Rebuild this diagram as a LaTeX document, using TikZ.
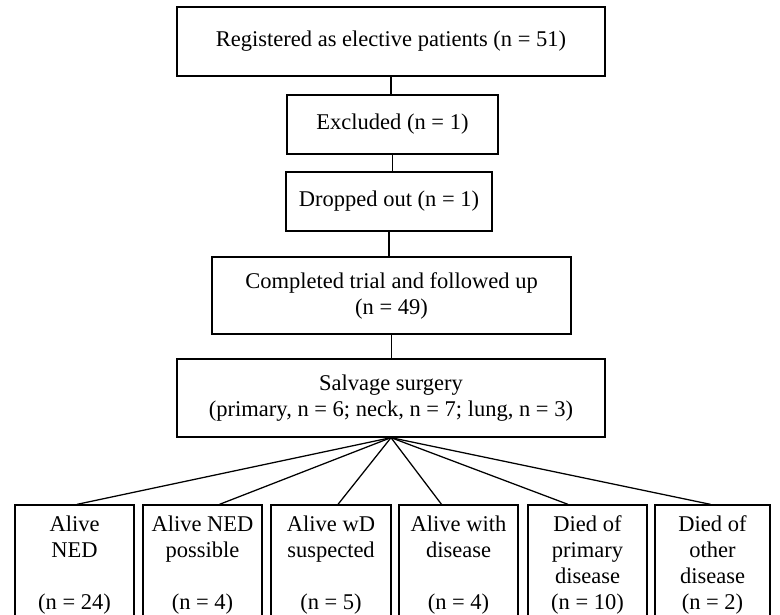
\documentclass[tikz,border=0pt]{standalone}
\usepackage{fontspec}
\setmainfont{Liberation Serif}

\tikzset{
  box/.style={draw, line width=0.9pt, align=center, inner sep=0pt,
    font=\fontsize{16}{18.5}\selectfont},
  link/.style={line width=0.9pt}
}

\begin{document}
\begin{tikzpicture}[x=0.025cm, y=-0.025cm]
\useasboundingbox (0,0) rectangle (780,615);

%the chain of boxes down the middle
\node[box, minimum width=10.7cm, minimum height=1.725cm] (reg) at (391,41.5) {Registered as elective patients (n = 51)};
\node[box, minimum width=5.275cm, minimum height=1.475cm] (excl) at (392.5,124.5) {Excluded (n = 1)};
\node[box, minimum width=5.15cm, minimum height=1.475cm] (drop) at (389,201.5) {Dropped out (n = 1)};
\node[box, minimum width=8.975cm, minimum height=1.925cm] (done) at (391.5,295.5) {Completed trial and followed up\\(n = 49)};
\node[box, minimum width=10.7cm, minimum height=1.95cm] (salv) at (391,398) {Salvage surgery\\(primary, n = 6; neck, n = 7; lung, n = 3)};

\draw[link] (reg.south) -- (reg.south |- excl.north);
\draw[link] (excl.south) -- (excl.south |- drop.north);
\draw[link] (drop.south) -- (drop.south |- done.north);
\draw[link] (done.south) -- (done.south |- salv.north);

%outcome boxes, open at the bottom edge
\node[box, minimum width=2.975cm, minimum height=3cm] (b1) at (74.5,565) {Alive\\NED\\~\\(n = 24)};
\node[box, minimum width=2.975cm, minimum height=3cm] (b2) at (202.5,565) {Alive NED\\possible\\~\\(n = 4)};
\node[box, minimum width=3cm, minimum height=3cm] (b3) at (331,565) {Alive wD\\suspected\\~\\(n = 5)};
\node[box, minimum width=2.975cm, minimum height=3cm] (b4) at (458.5,565) {Alive with\\disease\\~\\(n = 4)};
\node[box, minimum width=2.975cm, minimum height=3cm] (b5) at (587.5,565) {Died of\\primary\\disease\\(n = 10)};
\node[box, minimum width=2.875cm, minimum height=3cm] (b6) at (712.5,565) {Died of\\other\\disease\\(n = 2)};

\foreach \b/\dx in {b1/2.5, b2/17, b3/7, b4/-17, b5/-19.5, b6/-2}
  \draw[link] (salv.south) -- ([xshift=\dx*0.025cm]\b.north);

\end{tikzpicture}
\end{document}
